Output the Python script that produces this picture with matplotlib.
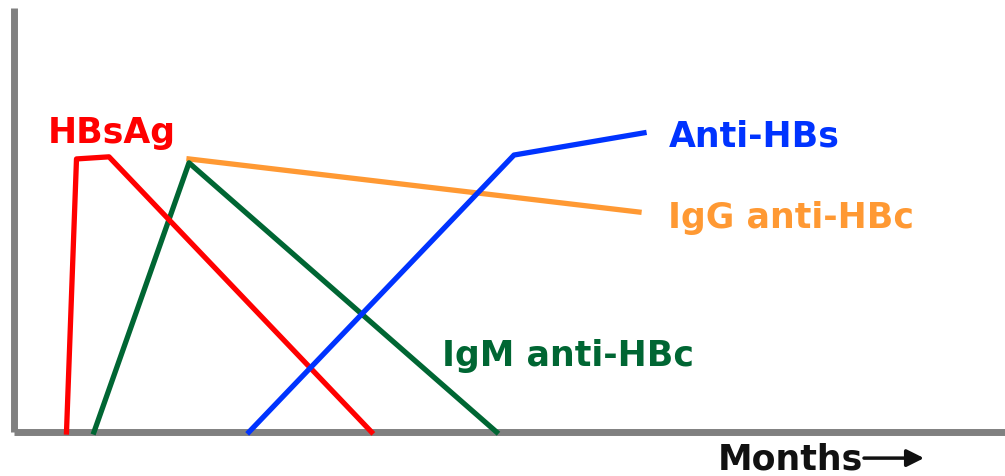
import matplotlib
matplotlib.use('Agg')
import matplotlib.pyplot as plt

# ========= data (months on x, relative level on y) =========
hbsag_x = [1.05, 1.25, 1.9, 7.15]
hbsag_y = [0, 91, 91.7, 0]

igm_x = [1.6, 3.5, 9.65]
igm_y = [0, 89.7, 0]

igg_x = [3.5, 12.5]
igg_y = [91, 73.3]

antihbs_x = [4.7, 10.0, 12.6]
antihbs_y = [0, 92.3, 99.7]

# ========= figure =========
W, H = 1005, 476
fig = plt.figure(figsize=(W / 100, H / 100), dpi=100)
ax = fig.add_axes([14 / W, (H - 432) / H, (W - 14) / W, (432 - 8) / H])
ax.set_xlim(0, 19.82)
ax.set_ylim(0, 141.3)

for s in ['top', 'right']:
    ax.spines[s].set_visible(False)
for s in ['left', 'bottom']:
    ax.spines[s].set_color('#808080')
    ax.spines[s].set_linewidth(5)
    ax.spines[s].set_capstyle('butt')
ax.set_xticks([])
ax.set_yticks([])

lw = 3.8
ax.plot(hbsag_x, hbsag_y, color='#ff0000', lw=lw, clip_on=False, zorder=5)
ax.plot(igm_x, igm_y, color='#006633', lw=lw, clip_on=False, zorder=4)
ax.plot(igg_x, igg_y, color='#ff9933', lw=lw, clip_on=False, zorder=3)
ax.plot(antihbs_x, antihbs_y, color='#0033ff', lw=lw, clip_on=False, zorder=6)

font = dict(family='DejaVu Sans', weight='bold', fontsize=25, va='baseline', ha='left')
ax.text(0.68, 96.3, 'HBsAg', color='#ff0000', **font)
ax.text(13.1, 95.0, 'Anti-HBs', color='#0033ff', **font)
ax.text(13.08, 67.9, 'IgG anti-HBc', color='#ff9933', **font)
ax.text(8.55, 22.0, 'IgM anti-HBc', color='#006633', **font)
ax.text(14.08, -12.4, 'Months', color='#111111', clip_on=False, **font)

# arrow after "Months"
ax.annotate('', xy=(18.2, -8.7), xytext=(17.0, -8.7), annotation_clip=False,
            arrowprops=dict(arrowstyle='-|>', color='#111111', lw=2.5,
                            mutation_scale=26, shrinkA=0, shrinkB=0))

fig.savefig('out.png', dpi=100)
